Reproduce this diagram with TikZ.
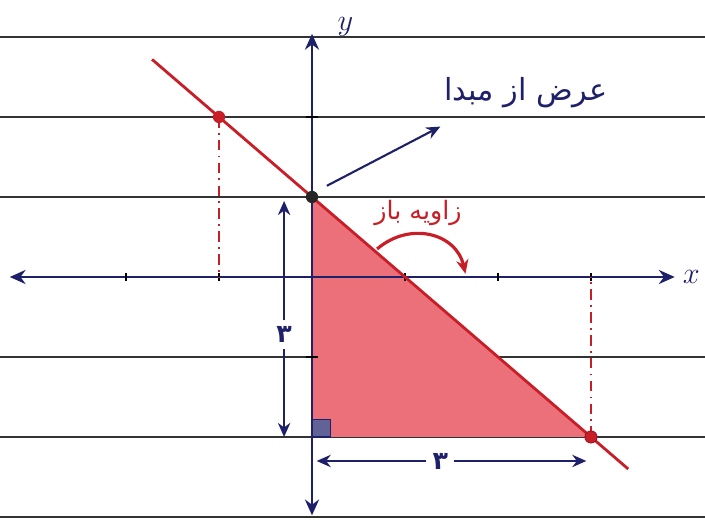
\documentclass[tikz,border=0pt]{standalone}
\usepackage{fontspec}
\usepackage{amsmath,amssymb}
\newfontfamily\arabicfont[Script=Arabic]{DejaVu Sans}
\TeXXeTstate=1
\usepackage{tikz}
\usetikzlibrary{arrows.meta,positioning,calc}

\definecolor{ink}{RGB}{30,32,105}
\definecolor{pen}{RGB}{200,30,40}
\definecolor{pinkfill}{RGB}{236,112,122}

\tikzset{
    ruled/.style={black!80, line width=0.9pt},
    axis/.style={ink, line width=1.6pt, -{Stealth[length=9pt,width=8pt]}},
    dimline/.style={ink, line width=1.2pt, -{Stealth[length=8pt,width=7pt]}},
    guide/.style={pen, line width=0.8pt, dash pattern=on 6pt off 3pt on 1pt off 3pt},
    tick/.style={black, line width=1pt},
    pt/.style={circle, inner sep=0pt, minimum size=7pt},
}

\begin{document}
\begin{tikzpicture}[x=1.86cm, y=1.6cm]
    \useasboundingbox (-3.355,-3.0875) rectangle (4.226,3.4625);

    % ruled paper
    \foreach \yy in {3,2,1,-1,-2,-3}
        \draw[ruled] (-3.355,\yy) -- (4.226,\yy);

    % points
    \coordinate (O) at (0,0);
    \coordinate (A) at (0,1);
    \coordinate (B) at (0,-2);
    \coordinate (C) at (3,-2);
    \coordinate (P) at (-1,2);
    \coordinate (Q) at (1,0);
    \coordinate (Pfoot) at (-1,0);
    \coordinate (Cfoot) at (3,0);

    % shaded triangle
    \fill[pinkfill] (A) -- (B) -- (C) -- cycle;

    % axes
    \coordinate (xl) at (-3.25,0);
    \coordinate (xr) at (3.9,0);
    \coordinate (yb) at (0,-2.98);
    \coordinate (yt) at (0,3.04);
    \draw[axis] (O) -- (xr);
    \draw[axis] (O) -- (xl);
    \draw[axis] (O) -- (yt);
    \draw[axis] (O) -- (yb);
    \node[ink, font=\LARGE] (xlab) at (4.08,0) {$x$};
    \node[ink, font=\LARGE] (ylab) at (0.36,3.12) {$y$};

    % ticks
    \foreach \xx in {-2,-1,1,2,3}
        \draw[tick] (\xx,-0.05) -- (\xx,0.05);
    \foreach \yy in {2,-1}
        \draw[tick] (-0.06,\yy) -- (0.06,\yy);

    % guide lines
    \draw[guide] (P) -- (Pfoot);
    \draw[guide] (C) -- (Cfoot);

    % the line y = 1 - x
    \coordinate (Lstart) at (-1.72,2.72);
    \coordinate (Lend) at (3.4,-2.4);
    \draw[pen, line width=1.6pt] (Lstart) -- (Lend);

    % right angle
    \draw[ink, line width=1pt, fill=ink!70] (B) rectangle ++(0.2,0.22);

    \node[pt, fill=pen] (Pdot) at (P) {};
    \node[pt, fill=pen, draw=pen!70!black] (Cdot) at (C) {};
    \node[pt, fill=black!85] (Adot) at (A) {};

    % dimension 3 (vertical)
    \node[ink, font=\arabicfont\Large\bfseries] (dimv) at (-0.3,-0.72) {۳};
    \coordinate (vtop) at (-0.3,0.95);
    \coordinate (vbot) at (-0.3,-2.0);
    \draw[dimline] (dimv.north) -- (vtop);
    \draw[dimline] (dimv.south) -- (vbot);

    % dimension 3 (horizontal)
    \node[ink, font=\arabicfont\Large\bfseries] (dimh) at (1.38,-2.3) {۳};
    \coordinate (hleft) at (0.05,-2.3);
    \coordinate (hright) at (2.95,-2.3);
    \draw[dimline] (dimh.west) -- (hleft);
    \draw[dimline] (dimh.east) -- (hright);

    % y-intercept annotation
    \node[ink, font=\arabicfont\LARGE] (intlab) at (2.3,2.3) {\beginR عرض از مبدا\endR};
    \coordinate (intarrow) at (1.38,1.88);
    \draw[dimline] ($(A)+(0.16,0.14)$) -- (intarrow);

    % obtuse angle
    \node[pen, font=\arabicfont\Large] (anglab) at (1.14,0.8) {\beginR زاویه باز\endR};
    \coordinate (arcstart) at (0.7,0.35);
    \coordinate (arcend) at (1.65,0.04);
    \draw[pen, line width=1.8pt, -{Stealth[length=8pt,width=7pt]}]
        (arcstart) .. controls (1.05,0.7) and (1.55,0.55) .. (arcend);
\end{tikzpicture}
\end{document}
